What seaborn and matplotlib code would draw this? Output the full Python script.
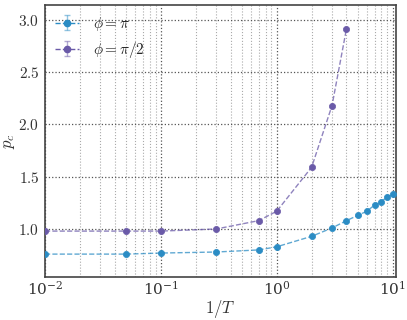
import numpy as np
import pandas as pd
import matplotlib
matplotlib.use("Agg")
import matplotlib.pyplot as plt
import matplotlib.ticker as mticker
import seaborn as sns

# data
x_pi = [0.01, 0.05, 0.1, 0.3, 0.7, 1, 2, 3, 4, 5, 6, 7, 8, 9, 10]
pc_pi = [0.76, 0.76, 0.77, 0.78, 0.80, 0.83, 0.93, 1.01, 1.08, 1.13, 1.17, 1.23, 1.26, 1.31, 1.33]
x_half = [0.01, 0.05, 0.1, 0.3, 0.7, 1, 2, 3, 4]
pc_half = [0.98, 0.98, 0.98, 1.00, 1.08, 1.17, 1.59, 2.18, 2.915]
labels = [r"$\phi = \pi$", r"$\phi = \pi/2$"]

df = pd.concat([
    pd.DataFrame({"x": x_pi, "pc": pc_pi, "serie": labels[0]}),
    pd.DataFrame({"x": x_half, "pc": pc_half, "serie": labels[1]}),
])

cores = {labels[0]: "#2b8cc4", labels[1]: "#6a5aa8"}

sns.set_theme(style="white")
plt.rcParams["mathtext.fontset"] = "cm"
plt.rcParams["font.family"] = ["DejaVu Serif"]

fig = plt.figure(figsize=(4.07, 3.2), dpi=100)
ax = fig.add_axes([0.1106, 0.134, 0.8624, 0.85])

# linhas tracejadas (mais claras) + marcadores
for lab in labels:
    sub = df[df["serie"] == lab]
    sns.lineplot(data=sub, x="x", y="pc", ax=ax, color=cores[lab], linestyle="--",
                 linewidth=1.0, alpha=0.75, legend=False)
    sns.scatterplot(data=sub, x="x", y="pc", ax=ax, color=cores[lab], s=20,
                    edgecolor=cores[lab], linewidth=0.5, legend=False, zorder=3)

# legenda no estilo errorbar
handles = []
for lab in labels:
    h = ax.errorbar([np.nan], [np.nan], yerr=[0], fmt="o", ls="--", color=cores[lab],
                    markersize=4.5, lw=1.0, capsize=2.5, ecolor=cores[lab])
    for c in h.lines[1]:
        c.set_alpha(0.5)
    for b in h.lines[2]:
        b.set_alpha(0.5)
    handles.append(h)
ax.legend(handles, labels, loc="upper left", frameon=False, fontsize=11,
          handlelength=1.6, handletextpad=0.9, borderaxespad=0.25,
          borderpad=0.4, labelspacing=0.45)

ax.set_xscale("log")
ax.set_xlim(0.01, 10.7)
ax.set_ylim(0.54, 3.14)
ax.yaxis.set_major_locator(mticker.MultipleLocator(0.5))
ax.yaxis.set_major_formatter(mticker.FuncFormatter(lambda v, p: f"${v:.1f}$"))

ax.grid(which="major", linestyle=":", color="#555555", linewidth=0.9)
ax.grid(which="minor", axis="x", linestyle=":", color="#aaaaaa", linewidth=0.8)
ax.tick_params(which="both", length=0, labelsize=11, colors="#333333")
ax.tick_params(axis="x", pad=2)
ax.tick_params(axis="y", pad=4)

ax.set_xlabel(r"$1/T$", fontsize=12, color="#333333", labelpad=0)
ax.set_ylabel(r"$p_c$", fontsize=12, color="#333333", labelpad=1)
for sp in ax.spines.values():
    sp.set_color("#444444")
    sp.set_linewidth(1.2)

fig.savefig("out.png", dpi=100)
